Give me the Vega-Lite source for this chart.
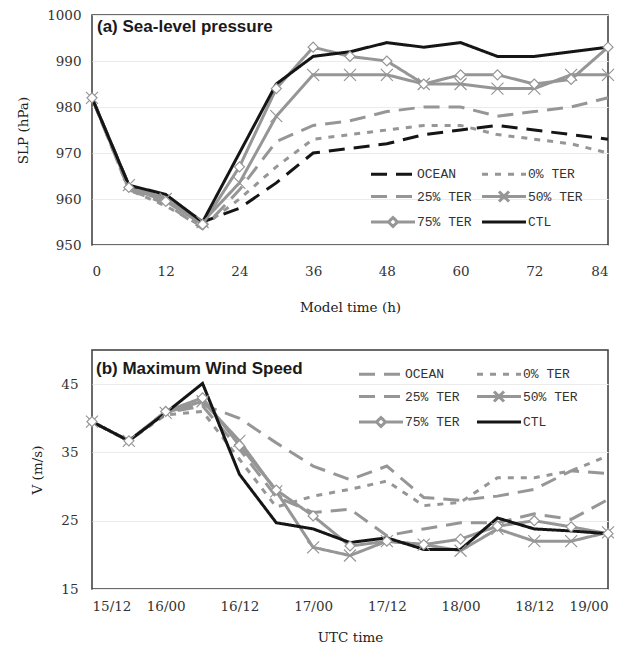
{
  "$schema": "https://vega.github.io/schema/vega-lite/v6.json",
  "background": "white",
  "padding": {"left": 15, "top": 7, "right": 4, "bottom": 3},
  "bounds": "flush",
  "spacing": 105,
  "resolve": {"scale": {"color": "independent", "strokeDash": "independent", "shape": "independent"}, "legend": {"color": "independent", "strokeDash": "independent", "shape": "independent"}},
  "config": {
    "view": {"stroke": "#3a3a3a", "strokeWidth": 1.5},
    "axis": {"labelFont": "DejaVu Serif", "labelFontSize": 13.5, "labelColor": "#333333", "titleFont": "DejaVu Serif", "titleFontSize": 13.5, "titleFontWeight": "normal", "titleColor": "#222222", "domain": false, "ticks": false, "gridColor": "#ebebeb", "gridWidth": 1},
    "legend": {"labelFont": "Liberation Mono", "labelFontSize": 13, "labelColor": "#333333", "padding": 0, "symbolSize": 100, "symbolStrokeWidth": 3, "labelOffset": 33, "rowPadding": 3.5, "columns": 2, "direction": "horizontal", "orient": "none"}
  },
  "datasets": {
    "slp": [
      {"t": 0, "OCEAN": 982, "0% TER": 982, "25% TER": 982, "50% TER": 982, "75% TER": 982, "CTL": 982},
      {"t": 6, "OCEAN": 963, "0% TER": 962, "25% TER": 962, "50% TER": 963, "75% TER": 962.5, "CTL": 963},
      {"t": 12, "OCEAN": 960, "0% TER": 958.5, "25% TER": 959, "50% TER": 960, "75% TER": 959.5, "CTL": 961},
      {"t": 18, "OCEAN": 955, "0% TER": 954, "25% TER": 953.5, "50% TER": 955, "75% TER": 954.5, "CTL": 955},
      {"t": 24, "OCEAN": 958, "0% TER": 960, "25% TER": 962, "50% TER": 963.5, "75% TER": 967, "CTL": 970},
      {"t": 30, "OCEAN": 963.5, "0% TER": 967, "25% TER": 972.5, "50% TER": 978, "75% TER": 984, "CTL": 985},
      {"t": 36, "OCEAN": 970, "0% TER": 973, "25% TER": 976, "50% TER": 987, "75% TER": 993, "CTL": 991},
      {"t": 42, "OCEAN": 971, "0% TER": 974, "25% TER": 977, "50% TER": 987, "75% TER": 991, "CTL": 992},
      {"t": 48, "OCEAN": 972, "0% TER": 975, "25% TER": 979, "50% TER": 987, "75% TER": 990, "CTL": 994},
      {"t": 54, "OCEAN": 974, "0% TER": 976, "25% TER": 980, "50% TER": 985, "75% TER": 985, "CTL": 993},
      {"t": 60, "OCEAN": 975, "0% TER": 976, "25% TER": 980, "50% TER": 985, "75% TER": 987, "CTL": 994},
      {"t": 66, "OCEAN": 976, "0% TER": 974, "25% TER": 978, "50% TER": 984, "75% TER": 987, "CTL": 991},
      {"t": 72, "OCEAN": 975, "0% TER": 973, "25% TER": 979, "50% TER": 984, "75% TER": 985, "CTL": 991},
      {"t": 78, "OCEAN": 974, "0% TER": 972, "25% TER": 980, "50% TER": 987, "75% TER": 986, "CTL": 992},
      {"t": 84, "OCEAN": 973, "0% TER": 970, "25% TER": 982, "50% TER": 987, "75% TER": 993, "CTL": 993}
    ],
    "wind": [
      {"t": 0, "OCEAN": 39.5, "0% TER": 39.5, "25% TER": 39.5, "50% TER": 39.5, "75% TER": 39.5, "CTL": 39.5},
      {"t": 6, "OCEAN": 36.7, "0% TER": 36.7, "25% TER": 36.7, "50% TER": 36.7, "75% TER": 36.7, "CTL": 36.7},
      {"t": 12, "OCEAN": 41, "0% TER": 40.5, "25% TER": 40.8, "50% TER": 40.8, "75% TER": 41, "CTL": 40.8},
      {"t": 18, "OCEAN": 42, "0% TER": 41, "25% TER": 41.8, "50% TER": 42.5, "75% TER": 43, "CTL": 45.1},
      {"t": 24, "OCEAN": 40, "0% TER": 34, "25% TER": 35.5, "50% TER": 36.7, "75% TER": 36, "CTL": 31.8},
      {"t": 30, "OCEAN": 36.4, "0% TER": 27, "25% TER": 28.5, "50% TER": 29.3, "75% TER": 29.5, "CTL": 24.7},
      {"t": 36, "OCEAN": 33, "0% TER": 28.6, "25% TER": 26.2, "50% TER": 21.1, "75% TER": 25.7, "CTL": 23.8},
      {"t": 42, "OCEAN": 31, "0% TER": 29.6, "25% TER": 26.7, "50% TER": 19.9, "75% TER": 21.3, "CTL": 21.8},
      {"t": 48, "OCEAN": 33, "0% TER": 30.8, "25% TER": 22.8, "50% TER": 22, "75% TER": 22, "CTL": 22.5},
      {"t": 54, "OCEAN": 28.4, "0% TER": 27.2, "25% TER": 23.8, "50% TER": 21.5, "75% TER": 21.5, "CTL": 20.8},
      {"t": 60, "OCEAN": 28, "0% TER": 27.7, "25% TER": 24.7, "50% TER": 20.6, "75% TER": 22.3, "CTL": 20.8},
      {"t": 66, "OCEAN": 28.6, "0% TER": 31.3, "25% TER": 24.7, "50% TER": 23.8, "75% TER": 24.2, "CTL": 25.4},
      {"t": 72, "OCEAN": 29.6, "0% TER": 31.3, "25% TER": 26, "50% TER": 22, "75% TER": 25, "CTL": 23.8},
      {"t": 78, "OCEAN": 32.3, "0% TER": 32.3, "25% TER": 25.2, "50% TER": 22, "75% TER": 24.1, "CTL": 23.5},
      {"t": 84, "OCEAN": 31.9, "0% TER": 34.5, "25% TER": 28.1, "50% TER": 23.3, "75% TER": 23.1, "CTL": 23.1}
    ]
  },
  "vconcat": [
    {
      "width": 516,
      "height": 230,
      "title": {"text": "(a) Sea-level pressure", "anchor": "start", "frame": "group", "orient": "top", "offset": -41, "dx": 5, "baseline": "alphabetic", "font": "Liberation Sans", "fontSize": 17, "fontWeight": "bold", "color": "#1a1a1a"},
      "data": {"name": "slp"},
      "transform": [{"fold": ["OCEAN", "0% TER", "25% TER", "50% TER", "75% TER", "CTL"], "as": ["series", "value"]}],
      "encoding": {
        "x": {"field": "t", "type": "quantitative", "scale": {"domain": [0, 84], "nice": false, "zero": false}, "axis": {"values": [0, 12, 24, 36, 48, 60, 72, 84], "grid": false, "labelPadding": 19, "titlePadding": 23, "title": "Model time (h)"}},
        "y": {"field": "value", "type": "quantitative", "scale": {"domain": [950, 1000], "nice": false, "zero": false}, "axis": {"values": [950, 960, 970, 980, 990, 1000], "format": "d", "grid": true, "labelPadding": 11, "titlePadding": 16, "title": "SLP (hPa)"}}
      },
      "layer": [
        {
          "mark": {"type": "line", "strokeWidth": 3},
          "encoding": {
            "color": {"field": "series", "type": "nominal", "scale": {"domain": ["OCEAN", "0% TER", "25% TER", "50% TER", "75% TER", "CTL"], "range": ["#151515", "#969696", "#969696", "#969696", "#969696", "#151515"]}, "legend": {"title": null, "legendX": 279, "legendY": 152.5, "columnPadding": 4}},
            "strokeDash": {"field": "series", "type": "nominal", "scale": {"domain": ["OCEAN", "0% TER", "25% TER", "50% TER", "75% TER", "CTL"], "range": [[16, 9], [6, 7], [16, 9], [1, 0], [1, 0], [1, 0]]}, "legend": {"title": null, "legendX": 279, "legendY": 152.5, "columnPadding": 4}}
          }
        },
        {
          "transform": [{"filter": {"field": "series", "equal": "50% TER"}}],
          "mark": {"type": "point", "shape": "M-1,-1L1,1M-1,1L1,-1", "size": 144, "filled": false, "color": "#969696", "strokeWidth": 1.2, "opacity": 1}
        },
        {
          "transform": [{"filter": {"field": "series", "equal": "75% TER"}}],
          "mark": {"type": "point", "shape": "diamond", "size": 100, "filled": true, "fill": "white", "stroke": "#969696", "strokeWidth": 1.2, "opacity": 1}
        },
        {
          "transform": [{"filter": {"field": "t", "lt": 0}}],
          "mark": {"type": "point", "filled": false, "opacity": 1, "strokeWidth": 3},
          "encoding": {
            "color": {"field": "series", "type": "nominal", "legend": {"title": null, "legendX": 279, "legendY": 152.5, "columnPadding": 4}},
            "strokeDash": {"field": "series", "type": "nominal", "legend": {"title": null, "legendX": 279, "legendY": 152.5, "columnPadding": 4}},
            "shape": {"field": "series", "type": "nominal", "scale": {"domain": ["OCEAN", "0% TER", "25% TER", "50% TER", "75% TER", "CTL"], "range": ["M-1.3,0H7.5", "M-1.3,0H7.5", "M-1.3,0H7.5", "M-1.3,0H7.5M2.1,-1L4.1,1M2.1,1L4.1,-1", "M-1.3,0H2.2M4,0H7.5M2.2,0L3.1,-0.9L4,0L3.1,0.9Z", "M-1.3,0H7.5"]}, "legend": {"title": null, "legendX": 279, "legendY": 152.5, "columnPadding": 4}}
          }
        }
      ]
    },
    {
      "width": 516,
      "height": 239,
      "title": {"text": "(b) Maximum Wind Speed", "anchor": "start", "frame": "group", "orient": "top", "offset": -41, "dx": 4, "baseline": "alphabetic", "font": "Liberation Sans", "fontSize": 17, "fontWeight": "bold", "color": "#1a1a1a"},
      "data": {"name": "wind"},
      "transform": [{"fold": ["OCEAN", "0% TER", "25% TER", "50% TER", "75% TER", "CTL"], "as": ["series", "value"]}],
      "encoding": {
        "x": {"field": "t", "type": "quantitative", "scale": {"domain": [0, 84], "nice": false, "zero": false}, "axis": {"values": [0, 12, 24, 36, 48, 60, 72, 84], "grid": false, "labelPadding": 10, "titlePadding": 18, "title": "UTC time", "labelExpr": "['15/12','16/00','16/12','17/00','17/12','18/00','18/12','19/00'][round(datum.value/12)]"}},
        "y": {"field": "value", "type": "quantitative", "scale": {"domain": [15, 50], "nice": false, "zero": false}, "axis": {"values": [15, 25, 35, 45], "grid": true, "labelPadding": 14, "titlePadding": 16, "title": "V (m/s)"}}
      },
      "layer": [
        {
          "mark": {"type": "line", "strokeWidth": 3},
          "encoding": {
            "color": {"field": "series", "type": "nominal", "scale": {"domain": ["OCEAN", "0% TER", "25% TER", "50% TER", "75% TER", "CTL"], "range": ["#969696", "#969696", "#969696", "#969696", "#969696", "#151515"]}, "legend": {"title": null, "legendX": 267, "legendY": 17.5, "columnPadding": 11}},
            "strokeDash": {"field": "series", "type": "nominal", "scale": {"domain": ["OCEAN", "0% TER", "25% TER", "50% TER", "75% TER", "CTL"], "range": [[16, 9], [6, 7], [16, 9], [1, 0], [1, 0], [1, 0]]}, "legend": {"title": null, "legendX": 267, "legendY": 17.5, "columnPadding": 11}}
          }
        },
        {
          "transform": [{"filter": {"field": "series", "equal": "50% TER"}}],
          "mark": {"type": "point", "shape": "M-1,-1L1,1M-1,1L1,-1", "size": 144, "filled": false, "color": "#969696", "strokeWidth": 1.2, "opacity": 1}
        },
        {
          "transform": [{"filter": {"field": "series", "equal": "75% TER"}}],
          "mark": {"type": "point", "shape": "diamond", "size": 100, "filled": true, "fill": "white", "stroke": "#969696", "strokeWidth": 1.2, "opacity": 1}
        },
        {
          "transform": [{"filter": {"field": "t", "lt": 0}}],
          "mark": {"type": "point", "filled": false, "opacity": 1, "strokeWidth": 3},
          "encoding": {
            "color": {"field": "series", "type": "nominal", "legend": {"title": null, "legendX": 267, "legendY": 17.5, "columnPadding": 11}},
            "strokeDash": {"field": "series", "type": "nominal", "legend": {"title": null, "legendX": 267, "legendY": 17.5, "columnPadding": 11}},
            "shape": {"field": "series", "type": "nominal", "scale": {"domain": ["OCEAN", "0% TER", "25% TER", "50% TER", "75% TER", "CTL"], "range": ["M-1.3,0H7.5", "M-1.3,0H7.5", "M-1.3,0H7.5", "M-1.3,0H7.5M2.1,-1L4.1,1M2.1,1L4.1,-1", "M-1.3,0H2.2M4,0H7.5M2.2,0L3.1,-0.9L4,0L3.1,0.9Z", "M-1.3,0H7.5"]}, "legend": {"title": null, "legendX": 267, "legendY": 17.5, "columnPadding": 11}}
          }
        }
      ]
    }
  ]
}
